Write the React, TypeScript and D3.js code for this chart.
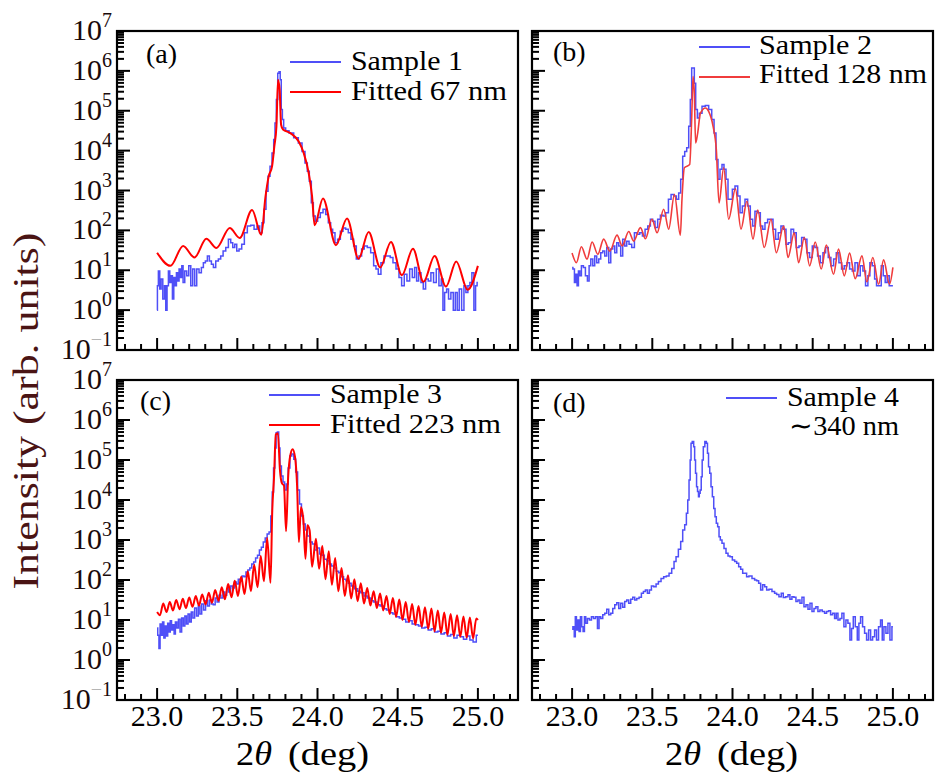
import React from "react";
import * as d3 from "d3";

// ---------- data: [2θ (deg), log10 intensity] ----------
const sample1: [number, number][] = [
  [23.000,0.0],[23.004,0.61],[23.012,0.98],[23.021,0.53],[23.029,0.78],[23.042,0.28],[23.050,0.61],[23.058,0.0],[23.066,0.61],[23.075,0.98],[23.083,0.69],[23.091,0.86],[23.100,0.28],[23.108,0.82],[23.116,0.61],[23.125,0.94],[23.133,0.73],[23.141,1.03],[23.150,0.82],[23.158,1.11],[23.166,0.69],[23.179,0.98],[23.191,0.86],[23.204,1.11],[23.216,0.61],[23.228,1.03],[23.241,0.61],[23.253,1.03],[23.270,0.94],[23.282,1.07],[23.295,1.19],[23.307,1.23],[23.320,1.36],[23.332,1.23],[23.345,1.15],[23.357,1.07],[23.374,1.23],[23.390,1.28],[23.403,1.36],[23.420,1.48],[23.436,1.57],[23.453,1.78],[23.465,1.69],[23.478,1.57],[23.490,1.65],[23.503,1.48],[23.519,1.53],[23.536,1.65],[23.552,1.94],[23.573,2.11],[23.594,2.13],[23.615,2.03],[23.631,2.11],[23.648,1.94],[23.660,2.19],[23.673,2.53],[23.685,2.98],[23.698,3.36],[23.710,3.61],[23.723,3.94],[23.731,4.28],[23.739,4.69],[23.748,5.28],[23.756,5.94],[23.764,5.98],[23.771,5.78],[23.777,5.03],[23.785,4.78],[23.793,4.57],[23.810,4.5],[23.835,4.44],[23.868,4.32],[23.893,4.19],[23.914,3.98],[23.930,3.69],[23.943,3.48],[23.955,3.23],[23.968,2.69],[23.980,2.36],[23.993,2.23],[24.009,2.32],[24.026,2.44],[24.043,2.53],[24.059,2.4],[24.076,2.19],[24.088,2.03],[24.101,1.94],[24.117,1.69],[24.134,1.78],[24.151,1.98],[24.167,2.06],[24.184,2.03],[24.200,1.94],[24.217,1.78],[24.234,1.61],[24.250,1.28],[24.267,1.36],[24.283,1.53],[24.300,1.61],[24.321,1.57],[24.342,1.44],[24.358,1.11],[24.371,1.03],[24.387,0.9],[24.404,1.19],[24.425,1.36],[24.445,1.36],[24.462,1.32],[24.479,1.19],[24.500,1.03],[24.516,0.82],[24.533,0.61],[24.549,0.9],[24.566,0.73],[24.583,1.03],[24.599,0.82],[24.612,1.07],[24.624,0.73],[24.637,0.94],[24.653,0.69],[24.666,0.53],[24.682,0.78],[24.699,0.73],[24.715,0.94],[24.732,0.69],[24.749,1.03],[24.765,0.61],[24.778,0.78],[24.786,0.0],[24.799,0.44],[24.811,0.53],[24.823,0.28],[24.840,0.44],[24.853,0.0],[24.865,0.44],[24.877,0.0],[24.890,0.53],[24.907,0.0],[24.919,0.61],[24.931,0.44],[24.944,0.61],[24.956,0.69],[24.969,0.94],[24.981,0.0],[24.990,0.61],[25.000,0.69]
];
const fitted1: [number, number][] = [
  [23.000,1.44],[23.083,1.11],[23.162,1.61],[23.233,1.32],[23.307,1.79],[23.370,1.56],[23.453,2.06],[23.515,1.81],[23.592,2.51],[23.650,1.89],[23.675,2.82],[23.696,3.36],[23.717,3.61],[23.731,4.11],[23.744,4.61],[23.754,5.78],[23.764,5.53],[23.773,4.65],[23.785,4.53],[23.831,4.44],[23.883,4.23],[23.914,3.94],[23.945,3.44],[23.966,2.86],[23.982,2.13],[24.034,2.80],[24.115,1.63],[24.184,2.30],[24.256,1.29],[24.319,1.96],[24.391,1.07],[24.458,1.71],[24.526,0.875],[24.595,1.54],[24.661,0.71],[24.730,1.36],[24.801,0.59],[24.865,1.22],[24.936,0.51],[25.000,1.11]
];
const sample2: [number, number][] = [
  [23.000,1.07],[23.010,1.03],[23.019,0.69],[23.027,0.90],[23.035,0.61],[23.044,0.98],[23.052,0.86],[23.064,1.11],[23.077,1.07],[23.089,0.86],[23.102,0.73],[23.110,1.11],[23.123,1.28],[23.135,1.11],[23.147,1.36],[23.160,1.19],[23.172,1.28],[23.185,1.44],[23.197,1.48],[23.210,1.36],[23.222,1.57],[23.235,1.19],[23.247,1.53],[23.260,1.61],[23.272,1.44],[23.285,1.69],[23.297,1.61],[23.309,1.36],[23.322,1.78],[23.334,1.61],[23.347,1.73],[23.363,1.65],[23.380,1.57],[23.397,1.94],[23.413,1.90],[23.430,1.94],[23.447,1.86],[23.463,2.03],[23.480,2.11],[23.496,2.28],[23.509,2.23],[23.525,2.07],[23.542,2.28],[23.559,2.38],[23.575,2.36],[23.592,2.44],[23.609,2.78],[23.625,2.90],[23.642,2.86],[23.658,2.78],[23.671,2.94],[23.683,3.28],[23.696,3.86],[23.708,3.98],[23.721,4.07],[23.733,4.61],[23.741,5.28],[23.750,6.07],[23.758,6.07],[23.766,5.69],[23.775,5.03],[23.787,4.82],[23.800,4.94],[23.820,5.11],[23.841,5.13],[23.862,5.03],[23.879,4.78],[23.891,4.44],[23.903,3.78],[23.916,3.28],[23.928,3.53],[23.941,3.65],[23.953,3.53],[23.966,3.28],[23.978,2.78],[23.991,2.78],[24.007,3.03],[24.024,3.11],[24.041,2.86],[24.053,2.44],[24.070,2.61],[24.086,2.78],[24.103,2.61],[24.119,2.28],[24.132,2.11],[24.148,2.48],[24.165,2.44],[24.182,2.11],[24.194,2.03],[24.211,2.19],[24.227,2.28],[24.244,2.28],[24.261,2.03],[24.277,1.78],[24.294,1.94],[24.310,2.11],[24.327,2.03],[24.340,1.65],[24.356,1.69],[24.373,2.03],[24.389,1.94],[24.406,1.57],[24.423,1.61],[24.439,1.82],[24.456,1.78],[24.472,1.44],[24.489,1.32],[24.506,1.61],[24.522,1.57],[24.539,1.36],[24.556,1.19],[24.572,1.44],[24.589,1.57],[24.605,1.32],[24.622,1.11],[24.639,1.28],[24.655,1.44],[24.672,1.19],[24.688,1.03],[24.705,1.11],[24.722,1.19],[24.738,1.03],[24.755,0.98],[24.772,1.19],[24.788,0.86],[24.805,1.11],[24.821,0.98],[24.838,0.61],[24.850,0.86],[24.863,1.19],[24.880,1.11],[24.892,0.78],[24.904,0.61],[24.921,0.61],[24.934,1.11],[24.946,0.86],[24.958,0.69],[24.971,0.86],[24.983,0.61],[25.000,0.61]
];
const fitted2: [number, number][] = [
  [23.000,1.43],[23.027,1.19],[23.058,1.59],[23.093,1.28],[23.125,1.71],[23.160,1.40],[23.197,1.78],[23.235,1.48],[23.280,1.88],[23.312,1.61],[23.353,1.97],[23.384,1.73],[23.426,2.07],[23.457,1.79],[23.498,2.28],[23.530,1.94],[23.571,2.53],[23.602,2.03],[23.638,2.90],[23.675,1.88],[23.685,2.78],[23.700,3.57],[23.733,3.65],[23.746,4.86],[23.754,5.86],[23.762,5.44],[23.770,4.19],[23.783,4.44],[23.800,4.94],[23.831,5.07],[23.852,4.98],[23.879,4.61],[23.899,4.03],[23.916,2.69],[23.945,3.57],[23.976,2.28],[24.018,3.04],[24.053,2.03],[24.090,2.73],[24.128,1.78],[24.157,2.51],[24.198,1.57],[24.240,2.28],[24.273,1.44],[24.319,2.11],[24.346,1.32],[24.385,1.94],[24.412,1.19],[24.448,1.82],[24.481,1.11],[24.516,1.71],[24.553,1.03],[24.585,1.63],[24.630,0.90],[24.661,1.53],[24.697,0.86],[24.730,1.43],[24.765,0.79],[24.807,1.36],[24.838,0.71],[24.875,1.32],[24.911,0.65],[24.942,1.26],[24.979,0.65],[25.000,1.07]
];
const sample3: [number, number][] = [
  [23.000,0.80],[23.008,0.62],[23.015,0.29],[23.022,0.90],[23.030,0.62],[23.038,0.95],[23.046,0.55],[23.054,0.85],[23.062,0.60],[23.070,0.92],[23.078,0.70],[23.086,0.98],[23.094,0.75],[23.102,0.88],[23.110,0.65],[23.118,0.95],[23.128,0.80],[23.138,1.02],[23.148,0.70],[23.158,1.05],[23.168,0.85],[23.178,1.10],[23.188,0.90],[23.198,1.15],[23.208,0.95],[23.218,1.20],[23.228,1.05],[23.240,1.30],[23.252,1.10],[23.262,1.35],[23.272,1.15],[23.284,1.40],[23.296,1.25],[23.308,1.48],[23.320,1.35],[23.332,1.50],[23.344,1.40],[23.356,1.38],[23.368,1.55],[23.380,1.45],[23.392,1.62],[23.404,1.55],[23.416,1.70],[23.428,1.62],[23.440,1.78],[23.452,1.70],[23.464,1.85],[23.476,1.80],[23.488,1.95],[23.500,1.90],[23.512,2.02],[23.524,1.98],[23.536,2.10],[23.548,2.08],[23.560,2.20],[23.572,2.25],[23.584,2.30],[23.596,2.40],[23.608,2.45],[23.620,2.55],[23.632,2.62],[23.644,2.75],[23.656,2.82],[23.668,2.95],[23.680,3.05],[23.692,3.15],[23.704,3.20],[23.714,3.60],[23.722,4.20],[23.730,4.80],[23.738,5.30],[23.746,5.68],[23.754,5.70],[23.762,5.30],[23.770,4.85],[23.780,4.60],[23.790,4.45],[23.800,4.25],[23.812,4.40],[23.822,4.80],[23.834,5.10],[23.846,5.15],[23.858,5.02],[23.870,4.70],[23.882,4.25],[23.894,3.90],[23.906,3.60],[23.918,3.40],[23.930,3.25],[23.944,3.10],[23.960,2.95],[23.975,2.90],[23.990,2.75],[24.005,2.80],[24.020,2.65],[24.035,2.62],[24.050,2.52],[24.065,2.48],[24.080,2.40],[24.095,2.35],[24.110,2.30],[24.125,2.22],[24.140,2.18],[24.155,2.08],[24.170,2.02],[24.185,1.98],[24.200,1.92],[24.220,1.85],[24.240,1.78],[24.260,1.72],[24.280,1.68],[24.300,1.60],[24.320,1.55],[24.340,1.48],[24.360,1.45],[24.380,1.38],[24.400,1.35],[24.420,1.28],[24.440,1.25],[24.460,1.18],[24.480,1.15],[24.500,1.08],[24.520,1.05],[24.540,1.02],[24.560,0.95],[24.580,0.98],[24.600,0.90],[24.620,0.88],[24.640,0.85],[24.660,0.80],[24.680,0.82],[24.700,0.75],[24.720,0.78],[24.740,0.70],[24.760,0.72],[24.780,0.65],[24.800,0.68],[24.820,0.60],[24.840,0.64],[24.860,0.55],[24.880,0.62],[24.900,0.58],[24.920,0.52],[24.940,0.60],[24.960,0.50],[24.980,0.45],[25.000,0.62]
];
const fitted3: [number, number][] = [
  [23.000,1.20],[23.018,1.12],[23.038,1.41],[23.059,1.20],[23.079,1.45],[23.099,1.24],[23.119,1.50],[23.140,1.27],[23.160,1.53],[23.180,1.30],[23.200,1.56],[23.221,1.33],[23.241,1.60],[23.261,1.36],[23.281,1.64],[23.302,1.39],[23.322,1.68],[23.342,1.43],[23.362,1.75],[23.383,1.48],[23.403,1.82],[23.423,1.52],[23.443,1.90],[23.464,1.57],[23.484,1.98],[23.504,1.60],[23.524,2.08],[23.545,1.65],[23.565,2.22],[23.585,1.72],[23.605,2.38],[23.626,1.82],[23.646,2.60],[23.666,1.97],[23.686,3.05],[23.707,1.93],[23.718,3.74],[23.729,4.57],[23.740,5.64],[23.753,5.67],[23.766,4.74],[23.778,4.42],[23.791,4.36],[23.804,3.22],[23.817,4.57],[23.830,5.11],[23.845,5.27],[23.860,5.07],[23.873,4.33],[23.884,2.95],[23.897,3.82],[23.912,3.49],[23.925,2.53],[23.937,3.37],[23.951,3.24],[23.966,2.33],[23.990,3.03],[24.010,2.28],[24.030,2.85],[24.050,2.02],[24.070,2.72],[24.090,1.88],[24.110,2.55],[24.130,1.72],[24.150,2.30],[24.170,1.60],[24.190,2.12],[24.210,1.54],[24.230,2.02],[24.250,1.47],[24.270,1.92],[24.290,1.41],[24.310,1.80],[24.330,1.36],[24.350,1.72],[24.370,1.30],[24.390,1.66],[24.410,1.24],[24.430,1.60],[24.450,1.15],[24.470,1.55],[24.490,1.08],[24.510,1.51],[24.530,1.00],[24.550,1.45],[24.570,0.95],[24.590,1.40],[24.610,0.88],[24.630,1.35],[24.650,0.83],[24.670,1.32],[24.690,0.78],[24.710,1.29],[24.730,0.72],[24.750,1.24],[24.770,0.68],[24.790,1.19],[24.810,0.63],[24.830,1.15],[24.850,0.60],[24.870,1.12],[24.890,0.58],[24.910,1.09],[24.930,0.56],[24.950,1.06],[24.970,0.54],[24.990,1.04],[25.000,1.00]
];
const sample4: [number, number][] = [
  [23.000,0.77],[23.010,0.83],[23.017,0.58],[23.023,1.08],[23.031,0.75],[23.039,1.00],[23.048,0.71],[23.056,1.08],[23.064,0.83],[23.073,0.71],[23.081,1.08],[23.089,0.92],[23.102,1.04],[23.114,1.00],[23.127,1.08],[23.139,1.04],[23.152,1.08],[23.164,0.79],[23.172,1.08],[23.185,1.04],[23.197,1.13],[23.210,1.17],[23.222,1.27],[23.235,1.13],[23.247,1.17],[23.260,1.29],[23.272,1.38],[23.285,1.43],[23.297,1.29],[23.309,1.42],[23.322,1.32],[23.334,1.46],[23.347,1.50],[23.359,1.42],[23.372,1.52],[23.384,1.57],[23.397,1.50],[23.409,1.54],[23.426,1.57],[23.438,1.67],[23.451,1.71],[23.463,1.75],[23.476,1.67],[23.488,1.75],[23.501,1.85],[23.517,1.83],[23.530,1.90],[23.546,1.96],[23.563,2.04],[23.579,2.08],[23.596,2.10],[23.613,2.17],[23.629,2.29],[23.642,2.46],[23.654,2.58],[23.671,2.77],[23.683,2.96],[23.696,3.25],[23.708,3.38],[23.717,3.67],[23.725,4.00],[23.733,4.50],[23.739,5.00],[23.744,5.42],[23.754,5.46],[23.762,5.33],[23.766,5.00],[23.773,4.67],[23.779,4.33],[23.785,4.21],[23.791,4.08],[23.795,4.17],[23.802,4.25],[23.808,4.58],[23.814,5.00],[23.822,5.33],[23.833,5.46],[23.841,5.42],[23.847,5.17],[23.854,4.83],[23.862,4.67],[23.870,4.33],[23.879,4.08],[23.887,3.79],[23.895,3.58],[23.903,3.42],[23.912,3.33],[23.920,3.08],[23.928,3.00],[23.941,2.92],[23.953,2.79],[23.966,2.67],[23.978,2.60],[23.991,2.58],[24.007,2.50],[24.020,2.46],[24.032,2.42],[24.045,2.33],[24.057,2.27],[24.070,2.17],[24.082,2.17],[24.094,2.08],[24.111,2.10],[24.132,2.04],[24.144,2.00],[24.157,1.98],[24.169,1.92],[24.182,1.75],[24.194,1.88],[24.207,1.83],[24.219,1.75],[24.236,1.77],[24.256,1.71],[24.269,1.67],[24.281,1.64],[24.298,1.58],[24.310,1.67],[24.323,1.56],[24.340,1.58],[24.352,1.63],[24.364,1.52],[24.377,1.58],[24.389,1.57],[24.402,1.46],[24.414,1.50],[24.427,1.42],[24.439,1.57],[24.452,1.33],[24.464,1.38],[24.477,1.27],[24.489,1.42],[24.502,1.21],[24.514,1.29],[24.526,1.33],[24.539,1.21],[24.551,1.25],[24.568,1.21],[24.580,1.17],[24.593,1.21],[24.605,1.23],[24.618,1.13],[24.630,1.17],[24.643,1.04],[24.651,1.17],[24.664,1.00],[24.676,1.04],[24.688,1.17],[24.701,0.83],[24.713,1.00],[24.726,0.92],[24.738,0.50],[24.747,0.79],[24.759,1.08],[24.772,0.83],[24.784,0.50],[24.792,0.92],[24.805,1.08],[24.817,0.83],[24.830,0.67],[24.842,0.50],[24.855,0.75],[24.867,0.50],[24.880,0.58],[24.892,0.75],[24.904,0.50],[24.917,0.83],[24.929,1.00],[24.938,0.50],[24.950,0.83],[24.963,0.67],[24.975,0.92],[24.988,0.50],[25.000,0.83]
];

const xMajorTicks = [23.0, 23.5, 24.0, 24.5, 25.0];
const xTickLabels = ["23.0", "23.5", "24.0", "24.5", "25.0"];
const yDecades = [-1, 0, 1, 2, 3, 4, 5, 6, 7];
const xDomain: [number, number] = [22.75, 25.25];
const yDomain: [number, number] = [1e-1, 1e7];

const BLUE = "#4f4ff7";
const RED = "#ff0000";
const RED_B = "#f03c3c";
const FONT = "'Liberation Serif', serif";
const fs = (size: number): React.CSSProperties => ({ fontFamily: FONT, fontSize: size + "px" });

type Series = { data: [number, number][]; color: string; width: number; step: boolean };
type LegendItem = { text: string; color?: string; len: number };

interface PanelProps {
  x0: number; x1: number; y0: number; y1: number;
  series: Series[];
  label: string; labelX: number; labelY: number;
  legend: LegendItem[]; legY: number[]; lineX0: number; lineX1: number; textX: number; textY: number[];
  showX: boolean; showY: boolean;
}

function Panel(p: PanelProps) {
  const xs = d3.scaleLinear().domain(xDomain).range([p.x0, p.x1]);
  const ys = d3.scaleLog().domain(yDomain).range([p.y1, p.y0]);
  const minorX = d3.range(22.8, 25.21, 0.1).filter((v) => Math.abs(v * 2 - Math.round(v * 2)) > 1e-6);
  const minorY: number[] = [];
  yDecades.slice(0, -1).forEach((e) => { for (let k = 2; k <= 9; k++) minorY.push(k * Math.pow(10, e)); });
  return (
    <g>
      {p.series.map((s, i) => {
        const line = d3.line<[number, number]>()
          .x((d) => xs(d[0]))
          .y((d) => ys(Math.pow(10, d[1])))
          .curve(s.step ? d3.curveStep : d3.curveMonotoneX);
        return <path key={i} d={line(s.data) || ""} fill="none" stroke={s.color} strokeWidth={s.width} strokeLinejoin="miter" />;
      })}
      <rect x={p.x0} y={p.y0} width={p.x1 - p.x0} height={p.y1 - p.y0} fill="none" stroke="#000" strokeWidth={2.2} />
      {xMajorTicks.map((t) => (
        <line key={"xM" + t} x1={xs(t)} x2={xs(t)} y1={p.y1} y2={p.y1 - 12} stroke="#000" strokeWidth={2} />
      ))}
      {minorX.map((t) => (
        <line key={"xm" + t} x1={xs(t)} x2={xs(t)} y1={p.y1} y2={p.y1 - 6} stroke="#000" strokeWidth={2} />
      ))}
      {yDecades.map((e) => (
        <line key={"yM" + e} x1={p.x0} x2={p.x0 + 13} y1={ys(Math.pow(10, e))} y2={ys(Math.pow(10, e))} stroke="#000" strokeWidth={2} />
      ))}
      {minorY.map((v) => (
        <line key={"ym" + v} x1={p.x0} x2={p.x0 + 7} y1={ys(v)} y2={ys(v)} stroke="#000" strokeWidth={2} />
      ))}
      {p.showX && xMajorTicks.map((t, i) => (
        <text key={"xl" + t} x={xs(t)} y={726} textAnchor="middle" style={fs(30)} fill="#000">{xTickLabels[i]}</text>
      ))}
      {p.showY && yDecades.map((e) => (
        <text key={"yl" + e} x={112} y={ys(Math.pow(10, e)) + 9} textAnchor="end" style={fs(30)} fill="#1a0a0a">
          10
          <tspan dy={-13} style={{ fontSize: "20px" }}>
            {e < 0 ? <><tspan fill="#b5b5b5">−</tspan>1</> : String(e)}
          </tspan>
        </text>
      ))}
      <text x={p.labelX} y={p.labelY} style={fs(28)} fill="#000">{p.label}</text>
      {p.legend.map((l, i) => (
        <g key={"lg" + i}>
          {l.color && <line x1={p.lineX0} x2={p.lineX1} y1={p.legY[i]} y2={p.legY[i]} stroke={l.color} strokeWidth={2} />}
          <text x={p.textX + (l.color ? 0 : 2)} y={p.textY[i]} style={fs(27)} fill="#000"
            textLength={l.len} lengthAdjust="spacingAndGlyphs">{l.text}</text>
        </g>
      ))}
    </g>
  );
}

export default function App() {
  return (
    <svg width={942} height={780} viewBox="0 0 942 780" style={{ position: "absolute", left: 0, top: 0, background: "#fff" }}>
      <rect x={0} y={0} width={942} height={780} fill="#fff" />
      <Panel x0={117} x1={518} y0={31} y1={350}
        series={[{ data: sample1, color: BLUE, width: 1.5, step: true }, { data: fitted1, color: RED, width: 2, step: false }]}
        label="(a)" labelX={146} labelY={63}
        legend={[{ text: "Sample 1", color: BLUE, len: 112 }, { text: "Fitted 67 nm", color: RED, len: 156 }]}
        legY={[62, 92]} lineX0={290} lineX1={341} textX={351} textY={[70, 100]}
        showX={false} showY={true} />
      <Panel x0={532} x1={933} y0={31} y1={350}
        series={[{ data: sample2, color: BLUE, width: 1.5, step: true }, { data: fitted2, color: RED_B, width: 1.6, step: false }]}
        label="(b)" labelX={553} labelY={61}
        legend={[{ text: "Sample 2", color: BLUE, len: 113 }, { text: "Fitted 128 nm", color: RED_B, len: 168 }]}
        legY={[47, 77]} lineX0={699} lineX1={750} textX={759} textY={[54, 83]}
        showX={false} showY={false} />
      <Panel x0={117} x1={518} y0={380} y1={700}
        series={[{ data: sample3, color: BLUE, width: 1.5, step: true }, { data: fitted3, color: RED, width: 2, step: false }]}
        label="(c)" labelX={140} labelY={410}
        legend={[{ text: "Sample 3", color: BLUE, len: 112 }, { text: "Fitted 223 nm", color: RED, len: 171 }]}
        legY={[395, 425]} lineX0={269} lineX1={320} textX={330} textY={[403, 433]}
        showX={true} showY={true} />
      <Panel x0={532} x1={933} y0={380} y1={700}
        series={[{ data: sample4, color: BLUE, width: 1.5, step: true }]}
        label="(d)" labelX={553} labelY={412}
        legend={[{ text: "Sample 4", color: BLUE, len: 112 }, { text: "∼340 nm", len: 110 }]}
        legY={[398, 428]} lineX0={726} lineX1={777} textX={787} textY={[406, 435]}
        showX={true} showY={false} />
      <text transform="translate(38,411) rotate(-90)" textAnchor="middle" style={fs(36)} fill="#4a1414"
        textLength={357} lengthAdjust="spacingAndGlyphs">Intensity (arb. units)</text>
      {[{ a: 236, b: 288 }, { a: 665, b: 717 }].map((o, i) => (
        <g key={"xt" + i}>
          <text x={o.a} y={765} style={fs(33)} fill="#000" textLength={36} lengthAdjust="spacingAndGlyphs">
            2<tspan fontStyle="italic">θ</tspan>
          </text>
          <text x={o.b} y={765} style={fs(33)} fill="#000" textLength={81} lengthAdjust="spacingAndGlyphs">(deg)</text>
        </g>
      ))}
    </svg>
  );
}
